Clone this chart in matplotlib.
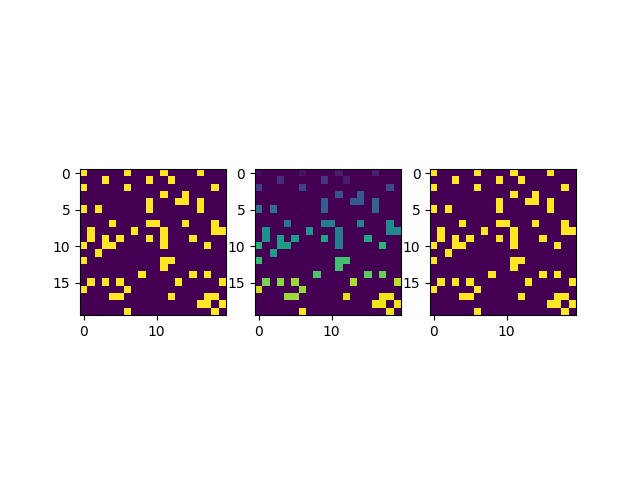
import numpy as np
import matplotlib
matplotlib.use('Agg')
import matplotlib.pyplot as plt

# region labels, 0 is background
labels = np.array([
    [ 1, 0, 0, 0, 0, 0, 2, 0, 0, 0, 0, 3, 0, 0, 0, 0, 4, 0, 0, 0],
    [ 0, 0, 0, 5, 0, 0, 0, 0, 0, 6, 0, 0, 3, 0, 0, 0, 0, 0, 0, 0],
    [ 7, 0, 0, 0, 0, 0, 8, 0, 0, 0, 0, 0, 0, 0, 0, 0, 0, 0, 9, 0],
    [ 0, 0, 0, 0, 0, 0, 0, 0, 0, 0, 0,10, 0, 0,11, 0, 0, 0, 0, 0],
    [ 0, 0, 0, 0, 0, 0, 0, 0, 0,12, 0, 0, 0,11,11, 0,13, 0, 0, 0],
    [14, 0,15, 0, 0, 0, 0, 0, 0,12, 0, 0, 0, 0, 0, 0,13, 0, 0, 0],
    [ 0, 0, 0, 0, 0, 0, 0, 0, 0, 0, 0, 0, 0, 0, 0, 0, 0, 0, 0, 0],
    [ 0, 0, 0, 0,16, 0, 0, 0, 0,17,17, 0, 0, 0,18, 0, 0, 0,19, 0],
    [ 0,20, 0, 0, 0, 0, 0,21, 0, 0, 0,17, 0, 0, 0, 0, 0, 0,19,19],
    [ 0,20, 0,22, 0,22, 0, 0, 0,23, 0,17, 0, 0, 0,24, 0, 0, 0, 0],
    [25, 0, 0,22,22, 0, 0, 0, 0, 0, 0,17, 0, 0, 0, 0, 0,26, 0, 0],
    [ 0, 0,22, 0, 0, 0, 0, 0, 0, 0, 0, 0, 0, 0, 0, 0, 0, 0, 0, 0],
    [27, 0, 0, 0, 0, 0, 0, 0, 0, 0, 0,28,28, 0, 0, 0, 0, 0, 0, 0],
    [ 0, 0, 0, 0, 0, 0, 0, 0, 0, 0, 0,28, 0, 0, 0, 0, 0, 0, 0, 0],
    [ 0, 0, 0, 0, 0, 0, 0, 0,29, 0, 0, 0, 0, 0, 0,30, 0,31, 0, 0],
    [ 0,32, 0,33, 0,34, 0, 0, 0, 0, 0, 0, 0,35, 0, 0, 0, 0, 0,36],
    [37, 0, 0, 0, 0, 0,34, 0, 0, 0, 0, 0, 0, 0, 0, 0, 0, 0, 0, 0],
    [ 0, 0, 0, 0,34,34, 0, 0, 0, 0, 0, 0,38, 0, 0, 0, 0,39,39, 0],
    [ 0, 0, 0, 0, 0, 0, 0, 0, 0, 0, 0, 0, 0, 0, 0, 0,39,39, 0,39],
    [ 0, 0, 0, 0, 0, 0,40, 0, 0, 0, 0, 0, 0, 0, 0, 0, 0, 0,39, 0],
])
binary = (labels > 0).astype(int)

plt.figure(figsize=(6.4, 4.8), dpi=100)

plt.subplot(1, 3, 1)
plt.imshow(binary)

plt.subplot(1, 3, 2)
plt.imshow(labels)

plt.subplot(1, 3, 3)
plt.imshow(binary)

plt.savefig('out.png', dpi=100)
